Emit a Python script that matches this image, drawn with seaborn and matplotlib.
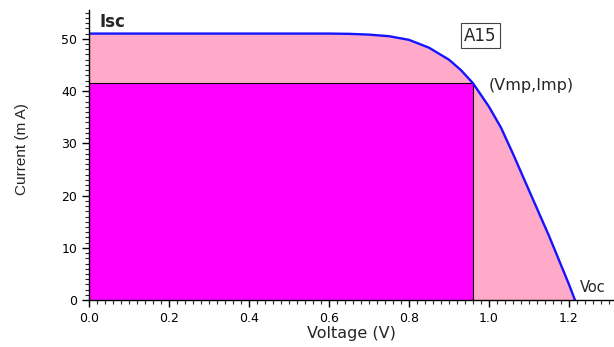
import numpy as np
import pandas as pd
import seaborn as sns
import matplotlib.pyplot as plt
from matplotlib.ticker import MultipleLocator

sns.set_style("ticks")
plt.rcParams['font.family'] = ['DejaVu Sans']

# I-V curve
voltage = [0.0, 0.3, 0.6, 0.65, 0.7, 0.75, 0.8, 0.85, 0.9, 0.93, 0.96, 1.0, 1.03, 1.06, 1.1, 1.15, 1.2, 1.215]
current = [51.0, 51.0, 51.0, 50.95, 50.8, 50.5, 49.8, 48.3, 46.0, 44.0, 41.5, 37.0, 33.0, 28.0, 21.0, 12.3, 3.0, 0.0]
vmp, imp = 0.96, 41.5

iv = pd.DataFrame({'V': voltage, 'I': current})

fig = plt.figure(figsize=(6.14, 3.47), dpi=100)
ax = fig.add_axes([0.145, 0.135, 0.855, 0.836])

# area under the curve and max power rectangle
ax.fill_between(iv['V'], iv['I'], color='#ffaac8', lw=0)
ax.fill_between([0, vmp], [imp, imp], color='#ff00ff', lw=0)
ax.plot([0, vmp, vmp], [imp, imp, 0], color='black', lw=0.8)
sns.lineplot(data=iv, x='V', y='I', ax=ax, color='#1414ff', lw=1.7)

ax.set_xlim(0, 1.3125)
ax.set_ylim(0, 55.5)
ax.xaxis.set_major_locator(MultipleLocator(0.2))
ax.xaxis.set_minor_locator(MultipleLocator(0.02))
ax.yaxis.set_major_locator(MultipleLocator(10))
ax.yaxis.set_minor_locator(MultipleLocator(1))
ax.xaxis.set_major_formatter(plt.FuncFormatter(lambda v, p: f'{v:.1f}'))
ax.tick_params(which='major', direction='out', length=5, width=1, labelsize=9, colors='black')
ax.tick_params(which='minor', direction='out', length=3, width=0.8)
sns.despine(ax=ax)
for s in ['left', 'bottom']:
    ax.spines[s].set_color('black')
    ax.spines[s].set_linewidth(1)

ax.set_xlabel('Voltage (V)', fontsize=11.5, labelpad=1)
ax.set_ylabel('Current (m A)', fontsize=11, family=['Liberation Sans'])
ax.yaxis.set_label_coords(-0.114, 0.52)

ax.text(0.027, 52.3, 'Isc', fontsize=12, fontweight='bold', va='baseline', ha='left')
ax.text(0.978, 50.6, 'A15', fontsize=12, ha='center', va='center',
        bbox=dict(boxstyle='square,pad=0.2', fc='white', ec='#444444', lw=0.8))
ax.text(0.998, 40.2, '(Vmp,Imp)', fontsize=11.5, ha='left', va='baseline')
ax.text(1.2275, 1.5, 'Voc', fontsize=10.5, ha='left', va='baseline')

fig.savefig('out.png', dpi=100)
